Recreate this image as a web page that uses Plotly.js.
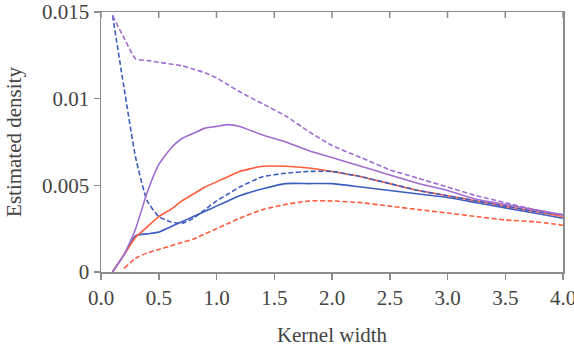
<!DOCTYPE html>
<html>
<head>
<meta charset="utf-8">
<script src="https://cdn.plot.ly/plotly-3.0.1.min.js"></script>
<style>
  html, body { margin: 0; padding: 0; background: #fff; }
  #chart { width: 574px; height: 348px; }
</style>
</head>
<body>
<div id="chart"></div>
<script>
// Kernel widths at which each density estimate was evaluated
const kernelWidth = [0.1, 0.2, 0.3, 0.4, 0.5, 0.6, 0.7, 0.8, 0.9, 1.0, 1.1, 1.2, 1.4, 1.6, 1.8, 2.0, 2.25, 2.5, 2.75, 3.0, 3.25, 3.5, 3.75, 4.0];

// Estimated densities, one array per curve
const purpleDashed = [0.0148, 0.0135, 0.0123, 0.0122, 0.0121, 0.0120, 0.0119, 0.0117, 0.0115, 0.0112, 0.0108, 0.0104, 0.0097, 0.0090, 0.0081, 0.0073, 0.0066, 0.0059, 0.0054, 0.0049, 0.0044, 0.0040, 0.0036, 0.0033];
const purpleSolid  = [0.0000, 0.0010, 0.0025, 0.0046, 0.0062, 0.0071, 0.0077, 0.0080, 0.0083, 0.0084, 0.0085, 0.0084, 0.0079, 0.0075, 0.0070, 0.0066, 0.0061, 0.0056, 0.0051, 0.0047, 0.0042, 0.0039, 0.0036, 0.0033];
const blueDashed   = [0.0148, 0.0106, 0.0066, 0.0041, 0.0032, 0.0029, 0.0028, 0.0031, 0.0036, 0.0041, 0.0045, 0.0049, 0.0055, 0.0057, 0.0058, 0.0058, 0.0055, 0.0051, 0.0047, 0.0044, 0.0041, 0.0038, 0.0035, 0.0033];
const redSolid     = [0.0000, 0.0010, 0.0020, 0.0026, 0.0032, 0.0036, 0.0041, 0.0045, 0.0049, 0.0052, 0.0055, 0.0058, 0.0061, 0.0061, 0.0060, 0.0058, 0.0055, 0.0051, 0.0047, 0.0044, 0.0041, 0.0038, 0.0035, 0.0032];
const blueSolid    = [0.0000, 0.0010, 0.0021, 0.0022, 0.0023, 0.0026, 0.0029, 0.0032, 0.0035, 0.0038, 0.0041, 0.0044, 0.0048, 0.0051, 0.0051, 0.0051, 0.0049, 0.0047, 0.0045, 0.0043, 0.0040, 0.0037, 0.0034, 0.0031];
const redDashed    = [null,   0.0002, 0.0008, 0.0011, 0.0013, 0.0015, 0.0017, 0.0019, 0.0022, 0.0025, 0.0028, 0.0031, 0.0036, 0.0039, 0.0041, 0.0041, 0.0040, 0.0038, 0.0036, 0.0034, 0.0032, 0.0030, 0.0029, 0.0027];

// Axis ticks
const xTicks = [0, 0.5, 1, 1.5, 2, 2.5, 3, 3.5, 4];
const xTickText = ['0.0', '0.5', '1.0', '1.5', '2.0', '2.5', '3.0', '3.5', '4.0'];
const yTicks = [0, 0.005, 0.01, 0.015];
const yTickText = ['0', '0.005', '0.01', '0.015'];

const PURPLE = '#a06cd0';
const BLUE = '#3d5dc0';
const RED = '#ff5c3e';
const AXIS = '#8c8c8c';

function curve(y, color, dash) {
  return {
    x: kernelWidth, y: y, type: 'scatter', mode: 'lines',
    line: { color: color, width: 1.6, dash: dash, shape: 'spline', smoothing: 0.5 },
    hoverinfo: 'skip', showlegend: false
  };
}

const DASH = '5px,2.5px';

const traces = [
  curve(redDashed, RED, DASH),
  curve(blueSolid, BLUE, 'solid'),
  curve(redSolid, RED, 'solid'),
  curve(blueDashed, BLUE, DASH),
  curve(purpleSolid, PURPLE, 'solid'),
  curve(purpleDashed, PURPLE, DASH)
];

// short inward ticks along the top frame, one per x tick
const topTicks = xTicks.map(function (v) {
  return { type: 'line', xref: 'x', yref: 'paper', x0: v, x1: v, y0: 1, y1: 0.977,
           line: { color: AXIS, width: 1.5 } };
});

const layout = {
  width: 574, height: 348,
  margin: { l: 101, r: 11, t: 12, b: 76 },
  shapes: topTicks,
  xaxis: {
    range: [0, 4], tickvals: xTicks, ticktext: xTickText,
    showgrid: false, zeroline: false,
    showline: true, linecolor: AXIS, linewidth: 1.5, mirror: true,
    ticks: 'outside', ticklen: 6, tickcolor: AXIS, tickwidth: 1.5,
    ticklabeloverflow: 'allow',
    tickfont: { family: 'Liberation Serif', size: 21 },
    title: { text: 'Kernel width', font: { family: 'Liberation Serif', size: 21 }, standoff: 18 }
  },
  yaxis: {
    range: [0, 0.015], tickvals: yTicks, ticktext: yTickText,
    showgrid: false, zeroline: false,
    showline: true, linecolor: AXIS, linewidth: 1.5, mirror: true,
    ticks: 'outside', ticklen: 6, tickcolor: AXIS, tickwidth: 1.5,
    tickfont: { family: 'Liberation Serif', size: 21 },
    title: { text: 'Estimated density', font: { family: 'Liberation Serif', size: 21 }, standoff: 14 }
  }
};

Plotly.newPlot('chart', traces, layout, { staticPlot: true });
</script>
</body>
</html>
